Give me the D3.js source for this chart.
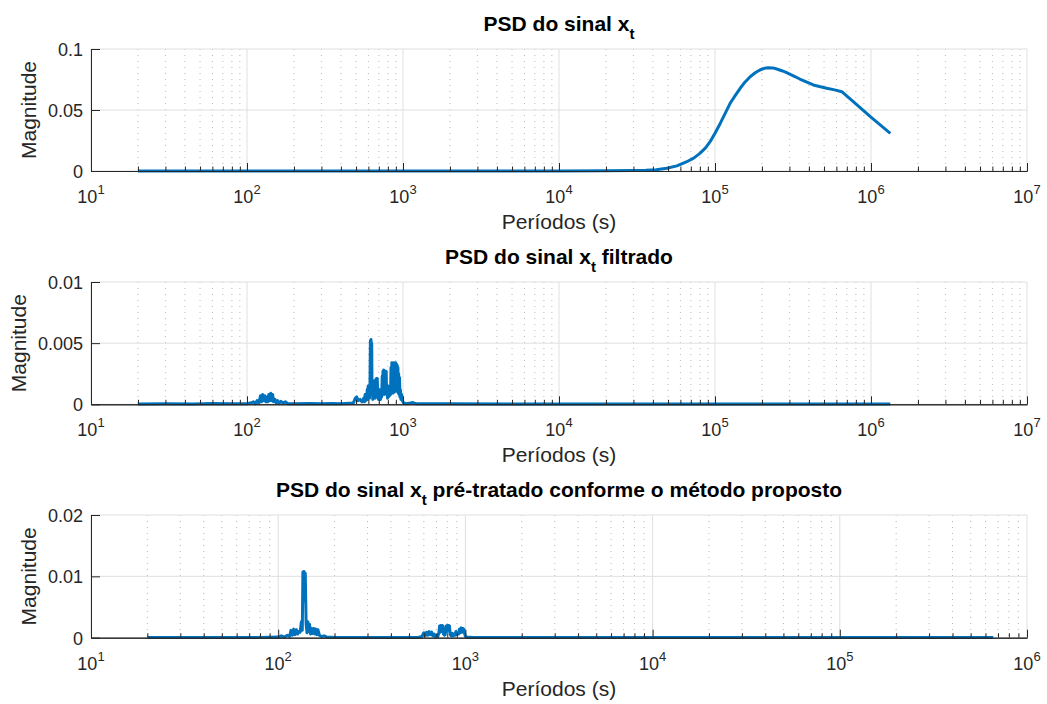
<!DOCTYPE html>
<html>
<head>
<meta charset="utf-8">
<script src="https://cdn.jsdelivr.net/npm/d3@7"></script>
<style>
  body { margin: 0; background: #ffffff; }
  svg { display: block; font-family: "Liberation Sans", Arial, Helvetica, sans-serif; }
</style>
</head>
<body>
<svg id="fig" width="1047" height="704"></svg>
<script>
// ---------- data: period (s) and PSD magnitude for each signal ----------

// PSD of the raw signal x_t
const periodsRaw = [20, 1000, 10000, 20000, 30000, 36000, 42000, 49000, 57000, 66000, 73000,
  80000, 87000, 93000, 100000, 108000, 116000, 125000, 135000, 145000, 156000, 168000,
  181000, 194000, 207000, 220000, 235000, 249000, 268000, 288000, 318000, 350000, 388000,
  427000, 474000, 520000, 585000, 650000, 770000, 990000, 1330000];
const magRaw = [0, 0, 0.0001, 0.0002, 0.0004, 0.0006, 0.0011, 0.0022, 0.0042, 0.0076, 0.0105,
  0.0145, 0.019, 0.024, 0.031, 0.039, 0.047, 0.0555, 0.062, 0.0678, 0.073, 0.0773,
  0.0805, 0.0828, 0.0842, 0.0847, 0.0845, 0.0836, 0.0822, 0.0806, 0.078, 0.0754, 0.0728,
  0.0705, 0.069, 0.0678, 0.0665, 0.065, 0.0568, 0.0445, 0.0309];

// PSD of the filtered signal
const periodsFilt = [20, 30, 45, 60, 80, 100, 105, 110, 113, 116, 119, 122, 124, 126, 128, 130,
  132, 134, 136, 138, 140, 142, 144, 146, 148, 151, 154, 157, 161, 165, 170, 176, 183, 200,
  250, 300, 350, 400, 450, 480, 495, 505, 515, 530, 545, 560, 566, 572, 578, 585, 590, 594,
  598, 602, 606, 610, 614, 618, 621, 624, 627, 630, 633, 637, 640, 644, 648, 652, 656, 660,
  664, 668, 672, 676, 680, 684, 688, 692, 697, 702, 707, 712, 718, 724, 730, 736, 740, 744,
  748, 752, 756, 760, 765, 770, 775, 780, 785, 790, 796, 802, 808, 814, 820, 826, 832, 838,
  843, 848, 853, 858, 863, 868, 873, 878, 883, 888, 893, 898, 903, 908, 913, 918, 923, 928,
  933, 938, 944, 950, 956, 962, 970, 980, 990, 1000, 1010, 1050, 1120, 1150, 1180, 1220,
  2000, 5000, 10000, 100000, 1330000];
const magFilt = [0.00003, 0.00005, 0.00003, 0.00006, 0.00004, 0.00005, 0.0001, 0.0002, 0.00005,
  0.0003, 0.0001, 0.0007, 0.0002, 0.0008, 0.0003, 0.0007, 0.0002, 0.0006, 0.0002, 0.0008,
  0.0003, 0.0009, 0.0003, 0.0008, 0.0002, 0.0004, 0.0001, 0.0003, 0.0001, 0.00025, 0.0001,
  0.0002, 0.00005, 0.00005, 0.00006, 0.00004, 0.00007, 0.00005, 0.00008, 0.0001, 0.0005,
  0.0006, 0.0003, 0.0004, 0.0002, 0.0005, 0.0002, 0.0008, 0.0003, 0.0006, 0.0012, 0.0004,
  0.0015, 0.0006, 0.0015, 0.0005, 0.0014, 0.0052, 0.0010, 0.0053, 0.0012, 0.0050, 0.0011,
  0.0016, 0.0004, 0.0018, 0.0006, 0.0019, 0.0008, 0.0019, 0.0005, 0.0020, 0.0009, 0.0021,
  0.0006, 0.0021, 0.0008, 0.0013, 0.0004, 0.0012, 0.0005, 0.0010, 0.0004, 0.0012, 0.0006,
  0.0023, 0.0009, 0.0027, 0.0010, 0.0028, 0.0008, 0.0026, 0.0012, 0.0027, 0.0009, 0.0027,
  0.0008, 0.0012, 0.0005, 0.0015, 0.0006, 0.0014, 0.0007, 0.0014, 0.0008, 0.0030, 0.0010,
  0.0034, 0.0012, 0.0033, 0.0009, 0.0034, 0.0013, 0.0034, 0.0010, 0.0033, 0.0014, 0.0034,
  0.0011, 0.0033, 0.0012, 0.0032, 0.0010, 0.0030, 0.0009, 0.0025, 0.0008, 0.0022, 0.0006,
  0.0012, 0.0004, 0.0008, 0.0003, 0.0002, 0.0001, 0.00005, 0.0001, 0.00015, 0.0001, 0.00005,
  0.00004, 0.00003, 0.00003, 0.00002, 0.00002];

// PSD of the signal pre-treated with the proposed method
const periodsProp = [20, 30, 45, 60, 80, 100, 104, 108, 112, 115, 117, 119, 121, 123, 125, 127,
  129, 131, 133, 134.5, 135.5, 136.5, 137.5, 138.5, 139.5, 141, 142.5, 144, 145.5, 147, 149,
  151, 153, 155, 157, 159, 161, 163, 166, 170, 176, 182, 200, 300, 400, 500, 560, 585, 600,
  610, 620, 630, 640, 650, 660, 670, 680, 690, 700, 712, 722, 728, 734, 740, 746, 752, 758,
  764, 772, 780, 790, 796, 802, 808, 814, 822, 830, 840, 850, 860, 870, 880, 890, 900, 910,
  920, 930, 940, 950, 960, 970, 980, 990, 1000, 1015, 1100, 3000, 10000, 100000, 660000];
const magProp = [0.00004, 0.00003, 0.00005, 0.00003, 0.00004, 0.0001, 0.0003, 0.0001, 0.0004,
  0.0002, 0.0012, 0.0004, 0.0014, 0.0005, 0.0013, 0.0006, 0.0010, 0.0009, 0.0026, 0.0012,
  0.0107, 0.0060, 0.0108, 0.0070, 0.0105, 0.0022, 0.0008, 0.0026, 0.0010, 0.0022, 0.0006,
  0.0015, 0.0007, 0.0015, 0.0006, 0.0014, 0.0005, 0.0013, 0.0004, 0.0002, 0.0003, 0.0001,
  0.00005, 0.00004, 0.00005, 0.00004, 0.00005, 0.0002, 0.0008, 0.0003, 0.0009, 0.0004,
  0.0010, 0.0005, 0.0009, 0.0003, 0.0006, 0.0002, 0.0004, 0.0002, 0.0008, 0.0019, 0.0009,
  0.0020, 0.0010, 0.0020, 0.0019, 0.0006, 0.0004, 0.0005, 0.0019, 0.0010, 0.0020, 0.0011,
  0.0020, 0.0019, 0.0005, 0.0003, 0.0007, 0.0003, 0.0006, 0.0004, 0.0010, 0.0005, 0.0008,
  0.0006, 0.0014, 0.0008, 0.0016, 0.0009, 0.0015, 0.0014, 0.0007, 0.0002, 0.0001, 0.00005,
  0.00003, 0.00003, 0.00003, 0.00003];

// axis ticks
const xExponentsLong = [1, 2, 3, 4, 5, 6, 7];
const xExponentsShort = [1, 2, 3, 4, 5, 6];
const yTicksRaw = [0, 0.05, 0.1];
const yTickLabelsRaw = ["0", "0.05", "0.1"];
const yTicksFilt = [0, 0.005, 0.01];
const yTickLabelsFilt = ["0", "0.005", "0.01"];
const yTicksProp = [0, 0.01, 0.02];
const yTickLabelsProp = ["0", "0.01", "0.02"];

// titles: [text before subscript, subscript, text after]
const titleRaw = ["PSD do sinal x", "t", ""];
const titleFilt = ["PSD do sinal x", "t", " filtrado"];
const titleProp = ["PSD do sinal x", "t", " pré-tratado conforme o método proposto"];
const xLabelText = "Períodos (s)";
const yLabelText = "Magnitude";

// ---------- drawing ----------
const TEXT = "#262626";
const AXIS = "#262626";
const LINE = "#0072BD";
const LEFT = 91, RIGHT = 1027;

const panels = [
  { top: 49,  bottom: 171,   periods: periodsRaw,  mags: magRaw,  xExp: xExponentsLong,  yTicks: yTicksRaw,  yLabels: yTickLabelsRaw,  title: titleRaw },
  { top: 282, bottom: 404.3, periods: periodsFilt, mags: magFilt, xExp: xExponentsLong,  yTicks: yTicksFilt, yLabels: yTickLabelsFilt, title: titleFilt },
  { top: 515, bottom: 637.7, periods: periodsProp, mags: magProp, xExp: xExponentsShort, yTicks: yTicksProp, yLabels: yTickLabelsProp, title: titleProp }
];

const svg = d3.select("#fig");

panels.forEach(p => {
  const g = svg.append("g");
  const x = d3.scaleLog()
    .domain([Math.pow(10, p.xExp[0]), Math.pow(10, p.xExp[p.xExp.length - 1])])
    .range([LEFT, RIGHT]);
  const y = d3.scaleLinear()
    .domain([p.yTicks[0], p.yTicks[p.yTicks.length - 1]])
    .range([p.bottom, p.top]);

  const allTicks = x.ticks();
  const isMajor = v => Math.abs(Math.log10(v) - Math.round(Math.log10(v))) < 1e-9;
  const majorX = allTicks.filter(isMajor);
  const minorX = allTicks.filter(v => !isMajor(v));

  // minor grid (dotted)
  g.append("g").selectAll("line").data(minorX).join("line")
    .attr("x1", d => x(d)).attr("x2", d => x(d))
    .attr("y1", p.top).attr("y2", p.bottom)
    .attr("stroke", "#b8b8b8").attr("stroke-width", 1)
    .attr("stroke-dasharray", "1,5");

  // major grid
  g.append("g").selectAll("line").data(majorX).join("line")
    .attr("x1", d => x(d)).attr("x2", d => x(d))
    .attr("y1", p.top).attr("y2", p.bottom)
    .attr("stroke", "#dfdfdf").attr("stroke-width", 1);
  g.append("g").selectAll("line").data(p.yTicks).join("line")
    .attr("x1", LEFT).attr("x2", RIGHT)
    .attr("y1", d => y(d)).attr("y2", d => y(d))
    .attr("stroke", "#dfdfdf").attr("stroke-width", 1);

  // data line
  const pts = p.periods.map((t, i) => [t, p.mags[i]]);
  g.append("path")
    .datum(pts)
    .attr("fill", "none")
    .attr("stroke", LINE)
    .attr("stroke-width", 3)
    .attr("stroke-linejoin", "round")
    .attr("d", d3.line().x(d => x(d[0])).y(d => y(d[1])));

  // bottom axis with inward ticks
  const xAxisMinor = d3.axisBottom(x).tickValues(minorX).tickSizeInner(-4.5).tickSizeOuter(0).tickFormat("");
  const xAxisMajor = d3.axisBottom(x).tickValues(majorX).tickSizeInner(-8).tickSizeOuter(0).tickFormat("");
  [xAxisMinor, xAxisMajor].forEach(ax => {
    const a = g.append("g").attr("transform", `translate(0,${p.bottom})`).call(ax);
    a.select(".domain").attr("stroke", AXIS);
    a.selectAll(".tick line").attr("stroke", AXIS);
  });

  // x tick labels 10^n
  const lbl = g.append("g").selectAll("text").data(p.xExp).join("text")
    .attr("x", d => x(Math.pow(10, d)))
    .attr("y", p.bottom + 32)
    .attr("text-anchor", "middle")
    .attr("fill", TEXT)
    .attr("font-size", 18);
  lbl.append("tspan").text("10");
  lbl.append("tspan").attr("font-size", 13).attr("dy", -9).text(d => d);

  // left axis with inward ticks
  const yAxis = d3.axisLeft(y).tickValues(p.yTicks).tickSizeInner(-9).tickSizeOuter(0)
    .tickPadding(8).tickFormat((d, i) => p.yLabels[i]);
  const ya = g.append("g").attr("transform", `translate(${LEFT},0)`).call(yAxis);
  ya.select(".domain").attr("stroke", AXIS);
  ya.selectAll(".tick line").attr("stroke", AXIS);
  ya.selectAll(".tick text")
    .attr("fill", TEXT).attr("font-size", 18)
    .attr("dy", "0.36em");
  ya.attr("font-family", null).attr("font-size", null);

  let maxW = 0;
  ya.selectAll(".tick text").each(function () { maxW = Math.max(maxW, this.getBBox().width); });

  // y label
  g.append("text")
    .attr("transform", `translate(${LEFT - 8 - maxW - 12},${(p.top + p.bottom) / 2}) rotate(-90)`)
    .attr("text-anchor", "middle")
    .attr("fill", TEXT).attr("font-size", 21)
    .text(yLabelText);

  // x label
  g.append("text")
    .attr("x", (LEFT + RIGHT) / 2).attr("y", p.bottom + 58)
    .attr("text-anchor", "middle")
    .attr("fill", TEXT).attr("font-size", 21)
    .text(xLabelText);

  // title with subscript
  const tt = g.append("text")
    .attr("x", (LEFT + RIGHT) / 2).attr("y", p.top - 18)
    .attr("text-anchor", "middle")
    .attr("fill", "#000").attr("font-size", 21).attr("font-weight", "bold");
  tt.append("tspan").text(p.title[0]);
  tt.append("tspan").attr("font-size", 15).attr("dy", 8).text(p.title[1]);
  if (p.title[2]) tt.append("tspan").attr("dy", -8).text(p.title[2]);
});
</script>
</body>
</html>
